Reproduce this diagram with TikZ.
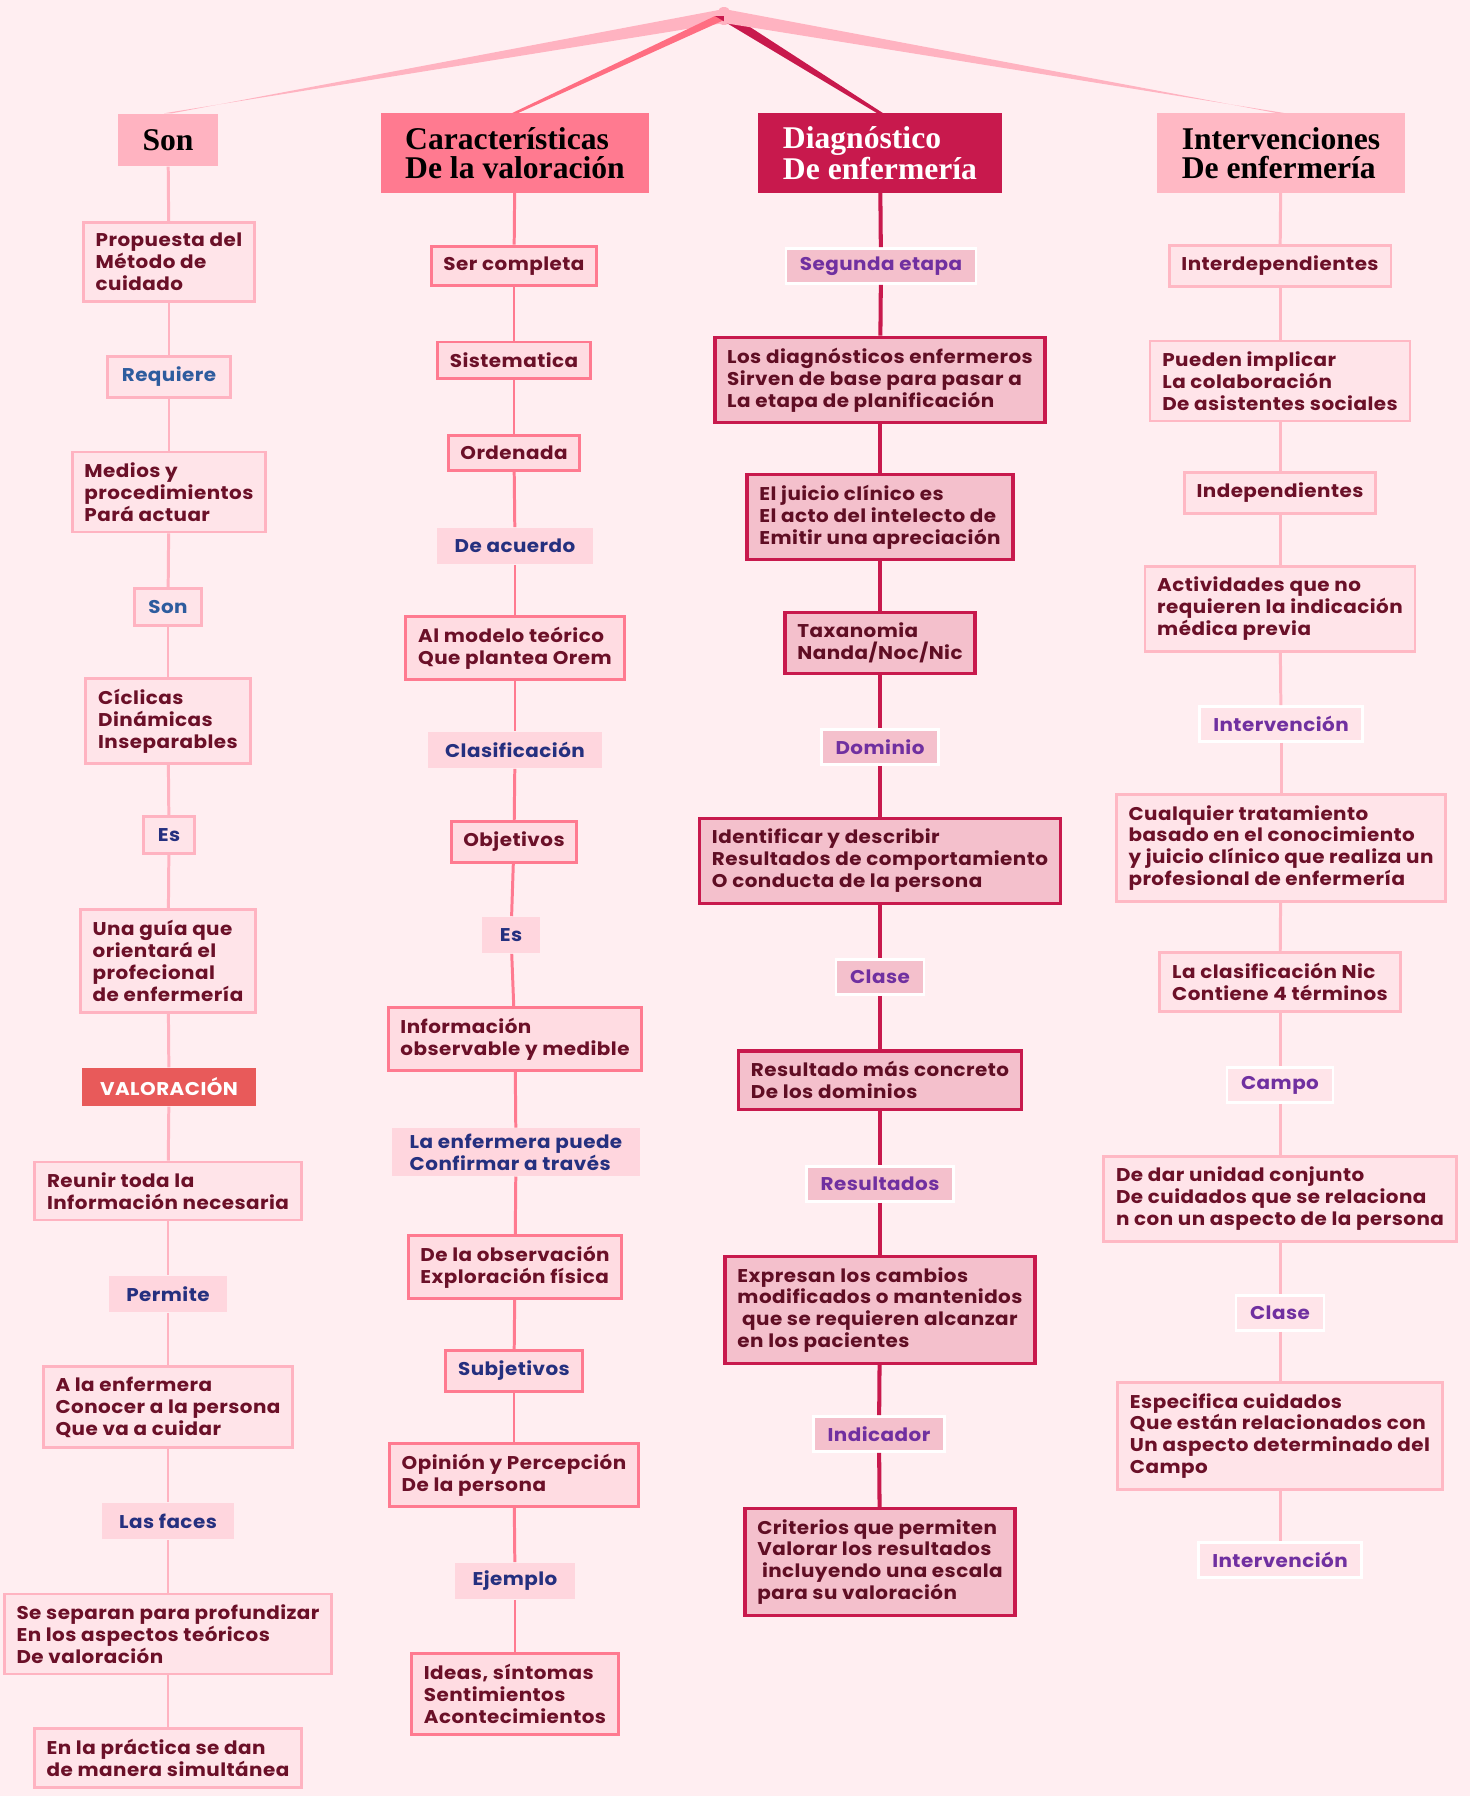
\documentclass[tikz,border=0pt]{standalone}
\usepackage{fontspec}
\setmainfont{Poppins}[FakeStretch=1.08, LetterSpace=2.5]
\newfontfamily\headfont{Liberation Serif}
\usetikzlibrary{positioning,calc}

\definecolor{bgpink}{HTML}{FFEEF1}
\definecolor{sonpink}{HTML}{FFB3C1}
\definecolor{carpink}{HTML}{FF7A90}
\definecolor{diagred}{HTML}{C8194D}
\definecolor{intpink}{HTML}{FFB8C4}
\definecolor{boxfill}{HTML}{FFE4E9}
\definecolor{carfill}{HTML}{FFDCE2}
\definecolor{diagfill}{HTML}{F4C0CC}
\definecolor{fuzzfill}{HTML}{FFD6DE}
\definecolor{maroon}{HTML}{6B1028}
\definecolor{bluetxt}{HTML}{2E5C9E}
\definecolor{navytxt}{HTML}{25307F}
\definecolor{purptxt}{HTML}{7030A0}
\definecolor{valred}{HTML}{E85A5A}

\tikzset{
  every node/.style={font=\bfseries\fontsize{10.5}{12.5}\selectfont, text=maroon, align=left},
  header/.style={font=\headfont\bfseries\fontsize{18}{16.5}\selectfont, text=black, inner xsep=14pt, minimum height=30pt},
  sonbox/.style={draw=sonpink, fill=boxfill, line width=1.6pt, inner xsep=7pt, inner ysep=6pt},
  sonlbl/.style={sonbox, text=navytxt, minimum height=21pt, inner xsep=8pt},
  fuzz/.style={fill=fuzzfill, text=navytxt, minimum height=21pt, inner xsep=10pt},
  valbox/.style={fill=valred, text=white, minimum height=22pt, inner xsep=10pt},
  carbox/.style={draw=carpink, fill=carfill, line width=1.7pt, inner xsep=7pt, inner ysep=6pt},
  diagbox/.style={draw=diagred, fill=diagfill, line width=2pt, inner xsep=7pt, inner ysep=6pt, text=maroon!90!black},
  diaglbl/.style={draw=white, fill=diagfill, line width=1.5pt, text=purptxt, minimum height=20pt, inner xsep=8pt},
  intbox/.style={draw=intpink, fill=boxfill, line width=1.6pt, inner xsep=7pt, inner ysep=6pt},
  intlbl/.style={draw=white, fill=boxfill, line width=1.5pt, text=purptxt, minimum height=20pt, inner xsep=8pt},
  sonlink/.style={draw=sonpink, line width=1.7pt},
  carlink/.style={draw=carpink, line width=1.7pt},
  diaglink/.style={draw=diagred, line width=2.3pt},
  intlink/.style={draw=intpink, line width=1.7pt},
  root/.style={fill=sonpink, rounded corners=2pt, minimum width=6pt, minimum height=10pt, inner sep=0pt}
}

\begin{document}
\begin{tikzpicture}[x=0.02cm, y=-0.02cm]
  \fill[bgpink] (0,0) rectangle (1470,1796);
  \useasboundingbox (0,0) rectangle (1470,1796);

  % top
  \node[root] (root) at (724,16) {};
  \node[header, fill=sonpink] (son) at (168,140) {Son};
  \node[header, fill=carpink, minimum height=45pt] (car) at (515,153) {Características\\De la valoración};
  \node[header, fill=diagred, text=white, minimum height=45pt] (diag) at (880,153) {Diagnóstico\\De enfermería};
  \node[header, fill=intpink, minimum height=45pt] (int) at (1281,153) {Intervenciones\\De enfermería};

  \fill[sonpink] ($(root)+(0,-7)$) -- ($(son.north)+(4,0)$) -- ($(son.north)+(-4,0)$) -- ($(root)+(0,7)$) -- cycle;
  \fill[carpink!90!red] ($(root)+(-9,0)$) -- ($(car.north)+(-3,0)$) -- ($(car.north)+(3,0)$) -- ($(root)+(9,0)$) -- cycle;
  \fill[diagred] ($(root)+(-9,0)$) -- ($(diag.north)+(-3,0)$) -- ($(diag.north)+(3,0)$) -- ($(root)+(9,0)$) -- cycle;
  \fill[sonpink] ($(root)+(0,-7)$) -- ($(int.north)+(-4,0)$) -- ($(int.north)+(4,0)$) -- ($(root)+(0,7)$) -- cycle;

  % Son
  \node[sonbox] (s1) at (169,262) {Propuesta del\\Método de\\cuidado};
  \node[sonlbl, text=bluetxt] (s2) at (169,377) {Requiere};
  \node[sonbox] (s3) at (169,492) {Medios y\\procedimientos\\Pará actuar};
  \node[sonlbl, text=bluetxt] (s4) at (168,607) {Son};
  \node[sonbox] (s5) at (168,721) {Cíclicas\\Dinámicas\\Inseparables};
  \node[sonlbl] (s6) at (169,835) {Es};
  \node[sonbox] (s7) at (168,961) {Una guía que\\orientará el\\profecional\\de enfermería};
  \node[valbox] (s8) at (169,1087) {VALORACIÓN};
  \node[sonbox] (s9) at (168,1191) {Reunir toda la\\Información necesaria};
  \node[fuzz] (s10) at (168,1294) {Permite};
  \node[sonbox] (s11) at (168,1407) {A la enfermera\\Conocer a la persona\\Que va a cuidar};
  \node[fuzz] (s12) at (168,1521) {Las faces};
  \node[sonbox] (s13) at (168,1634) {Se separan para profundizar\\En los aspectos teóricos\\De valoración};
  \node[sonbox] (s14) at (168,1758) {En la práctica se dan\\de manera simultánea};

  % Caracteristicas
  \node[carbox] (c1) at (514,266) {Ser completa};
  \node[carbox] (c2) at (514,360) {Sistematica};
  \node[carbox] (c3) at (514,453) {Ordenada};
  \node[fuzz] (c4) at (515,546) {De acuerdo};
  \node[carbox] (c5) at (515,648) {Al modelo teórico\\Que plantea Orem};
  \node[fuzz] (c6) at (515,750) {Clasificación};
  \node[carbox] (c7) at (514,842) {Objetivos};
  \node[fuzz] (c8) at (511,935) {Es};
  \node[carbox] (c9) at (515,1039) {Información\\observable y medible};
  \node[fuzz] (c10) at (516,1152) {La enfermera puede\\Confirmar a través};
  \node[carbox] (c11) at (515,1267) {De la observación\\Exploración física};
  \node[carbox, text=navytxt] (c12) at (514,1371) {Subjetivos};
  \node[carbox] (c13) at (514,1475) {Opinión y Percepción\\De la persona};
  \node[fuzz] (c14) at (515,1581) {Ejemplo};
  \node[carbox] (c15) at (515,1694) {Ideas, síntomas\\Sentimientos\\Acontecimientos};

  % Diagnostico
  \node[diaglbl] (d1) at (881,266) {Segunda etapa};
  \node[diagbox] (d2) at (880,380) {Los diagnósticos enfermeros\\Sirven de base para pasar a\\La etapa de planificación};
  \node[diagbox] (d3) at (880,517) {El juicio clínico es\\El acto del intelecto de\\Emitir una apreciación};
  \node[diagbox] (d4) at (880,643) {Taxanomia\\Nanda/Noc/Nic};
  \node[diaglbl] (d5) at (880,747) {Dominio};
  \node[diagbox] (d6) at (880,861) {Identificar y describir\\Resultados de comportamiento\\O conducta de la persona};
  \node[diaglbl] (d7) at (880,977) {Clase};
  \node[diagbox] (d8) at (880,1080) {Resultado más concreto\\De los dominios};
  \node[diaglbl] (d9) at (880,1184) {Resultados};
  \node[diagbox] (d10) at (880,1310) {Expresan los cambios\\modificados o mantenidos\\\ que se requieren alcanzar\\en los pacientes};
  \node[diaglbl] (d11) at (879,1434) {Indicador};
  \node[diagbox] (d12) at (880,1562) {Criterios que permiten\\Valorar los resultados\\\ incluyendo una escala\\para su valoración};

  % Intervenciones
  \node[intbox] (i1) at (1280,266) {Interdependientes};
  \node[intbox] (i2) at (1280,381) {Pueden implicar\\La colaboración\\De asistentes sociales};
  \node[intbox] (i3) at (1280,493) {Independientes};
  \node[intbox] (i4) at (1280,609) {Actividades que no\\requieren la indicación\\médica previa};
  \node[intlbl] (i5) at (1281,724) {Intervención};
  \node[intbox] (i6) at (1281,848) {Cualquier tratamiento\\basado en el conocimiento\\y juicio clínico que realiza un\\profesional de enfermería};
  \node[intbox] (i7) at (1280,982) {La clasificación Nic\\Contiene 4 términos};
  \node[intlbl] (i8) at (1280,1085) {Campo};
  \node[intbox] (i9) at (1280,1199) {De dar unidad conjunto\\De cuidados que se relaciona\\n con un aspecto de la persona};
  \node[intlbl] (i10) at (1280,1313) {Clase};
  \node[intbox] (i11) at (1280,1436) {Especifica cuidados\\Que están relacionados con\\Un aspecto determinado del\\Campo};
  \node[intlbl] (i12) at (1280,1560) {Intervención};

  % links
  \foreach \a/\b in {son/s1,s1/s2,s2/s3,s3/s4,s4/s5,s5/s6,s6/s7,s7/s8,s8/s9,s9/s10,s10/s11,s11/s12,s12/s13,s13/s14}
    \path[sonlink] (\a) -- (\b);
  \foreach \a/\b in {car/c1,c1/c2,c2/c3,c3/c4,c4/c5,c5/c6,c6/c7,c7/c8,c8/c9,c9/c10,c10/c11,c11/c12,c12/c13,c13/c14,c14/c15}
    \path[carlink] (\a) -- (\b);
  \foreach \a/\b in {diag/d1,d1/d2,d2/d3,d3/d4,d4/d5,d5/d6,d6/d7,d7/d8,d8/d9,d9/d10,d10/d11,d11/d12}
    \path[diaglink] (\a) -- (\b);
  \foreach \a/\b in {int/i1,i1/i2,i2/i3,i3/i4,i4/i5,i5/i6,i6/i7,i7/i8,i8/i9,i9/i10,i10/i11,i11/i12}
    \path[intlink] (\a) -- (\b);
\end{tikzpicture}
\end{document}
